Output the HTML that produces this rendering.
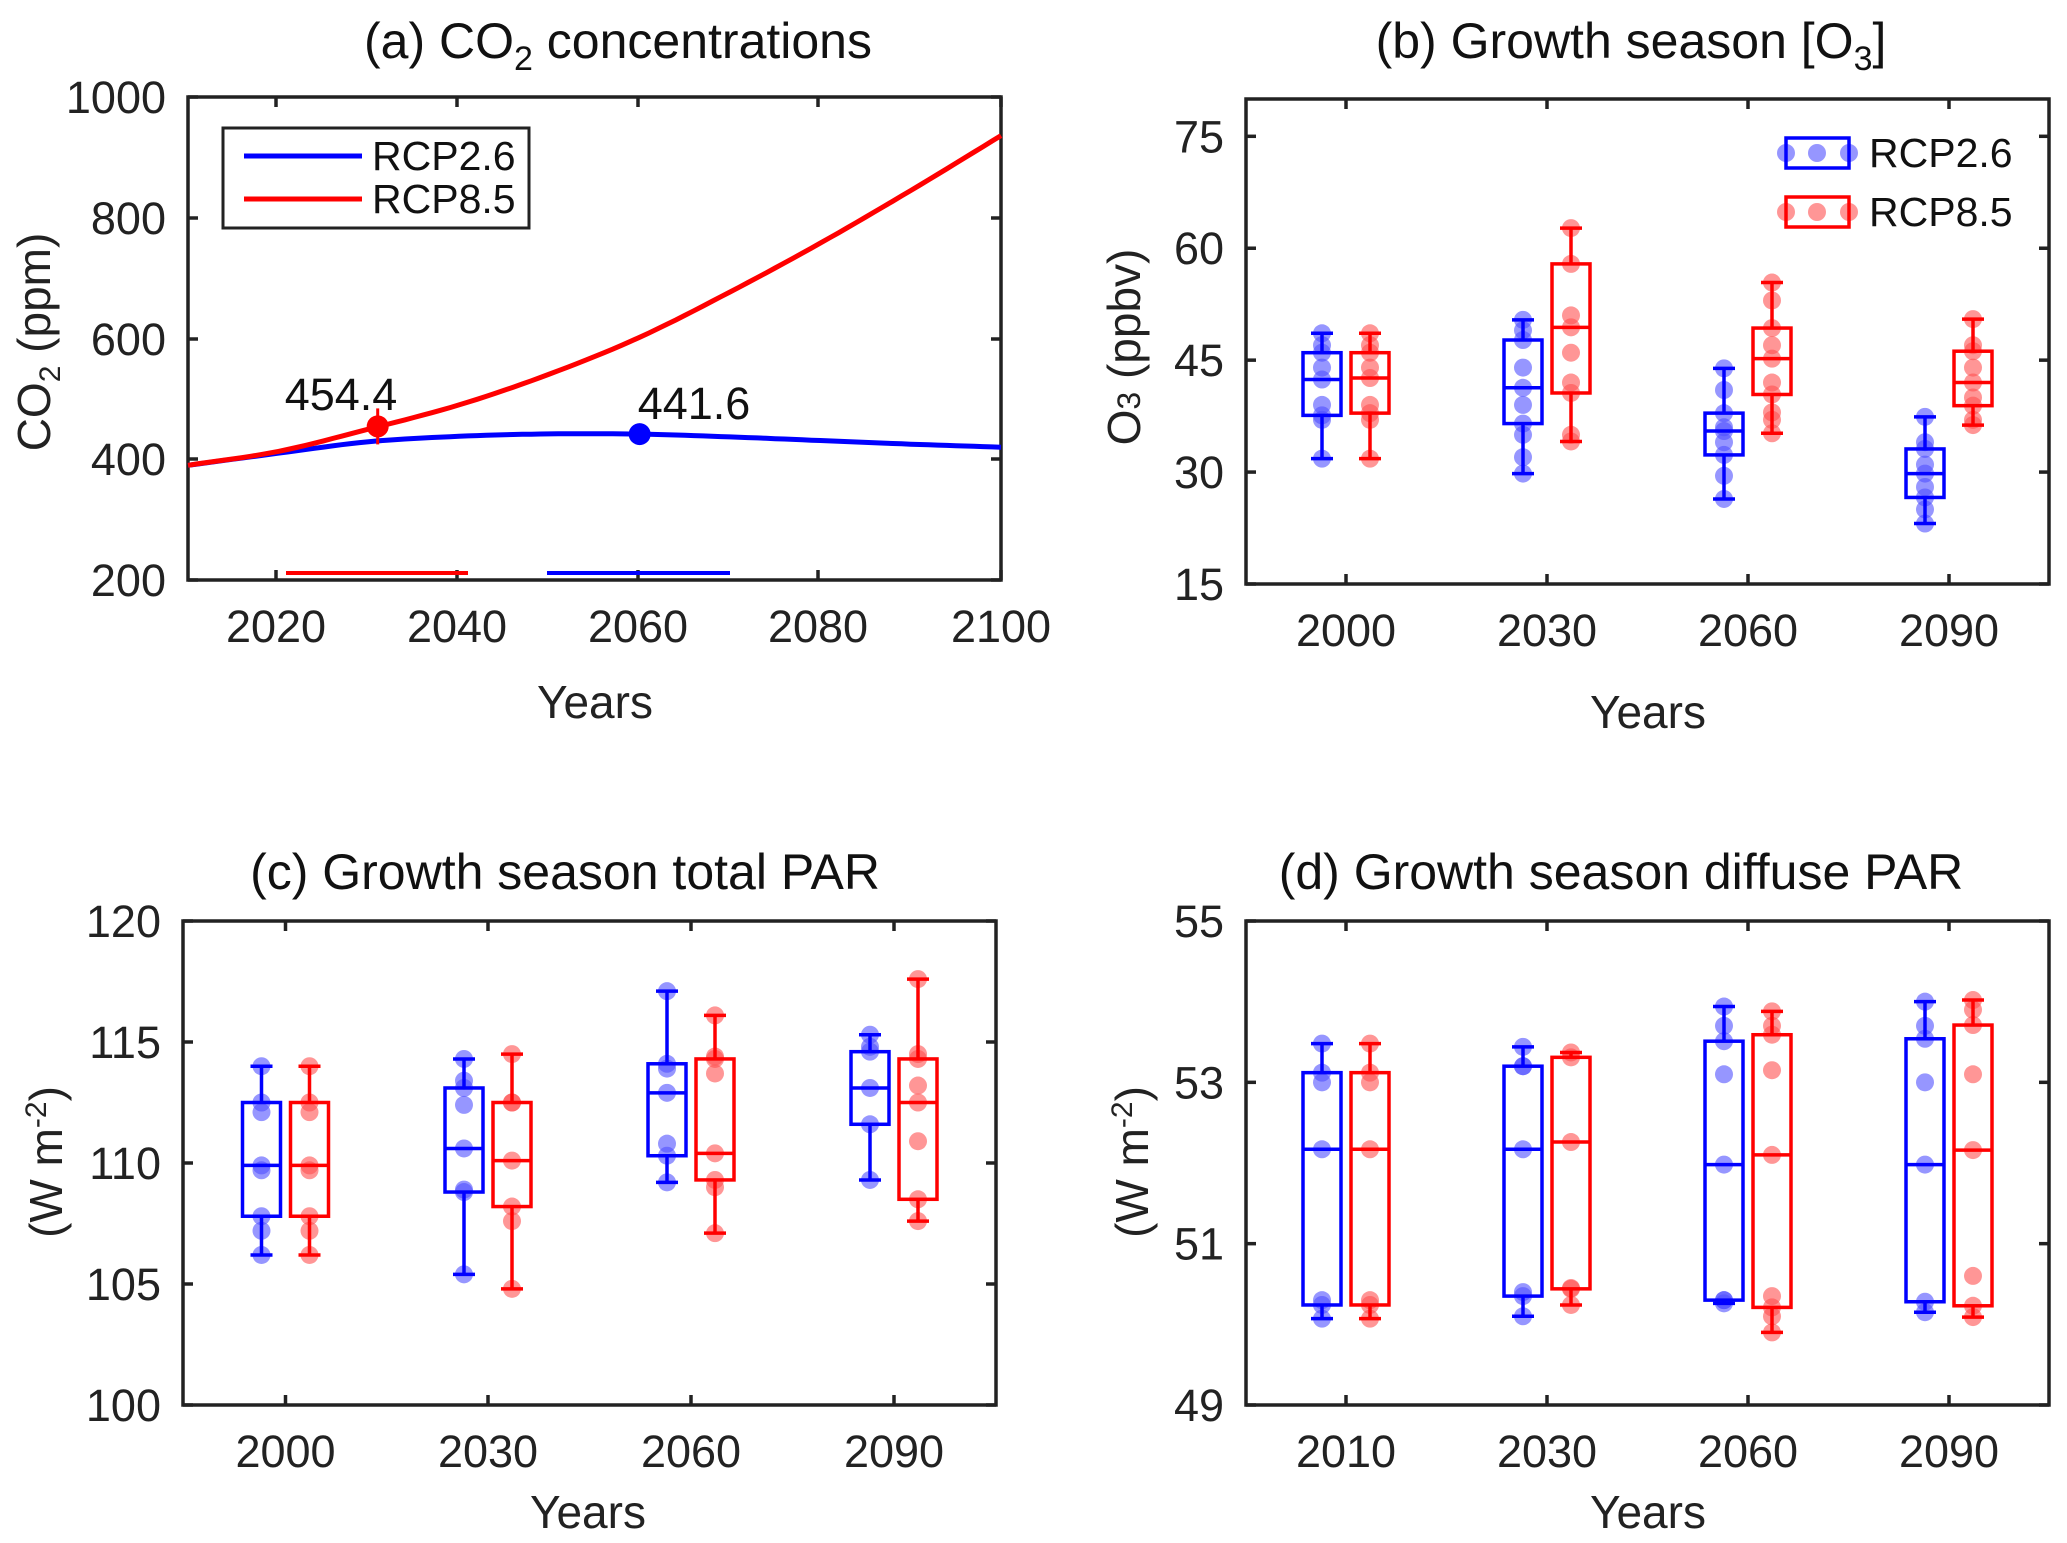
<!DOCTYPE html>
<html><head><meta charset="utf-8">
<style>
html,body{margin:0;padding:0;background:#fff;}
svg{display:block;font-family:"Liberation Sans",Arial,sans-serif;}
</style></head>
<body>
<svg id="s" width="2067" height="1543" viewBox="0 0 2067 1543" xmlns="http://www.w3.org/2000/svg">
<rect width="2067" height="1543" fill="#fff"/>
<g font-size="50" fill="#111" text-anchor="middle">
<text x="618" y="58">(a) CO<tspan font-size="34" dy="12">2</tspan><tspan dy="-12"> concentrations</tspan></text>
<text x="1631" y="58">(b) Growth season [O<tspan font-size="34" dy="12">3</tspan><tspan dy="-12">]</tspan></text>
<text x="565" y="889">(c) Growth season total PAR</text>
<text x="1621" y="889">(d) Growth season diffuse PAR</text>
</g>
<g font-size="46" fill="#222" text-anchor="middle">
<text x="595" y="718">Years</text>
<text x="1648" y="728">Years</text>
<text x="588" y="1528">Years</text>
<text x="1648" y="1528">Years</text>
<text transform="translate(50,342) rotate(-90)">CO<tspan font-size="30" dy="10">2</tspan><tspan dy="-10"> (ppm)</tspan></text>
<text transform="translate(1140,347) rotate(-90)">O<tspan font-size="32">3</tspan> (ppbv)</text>
<text transform="translate(62,1162) rotate(-90)">(W m<tspan font-size="30" dy="-16">-2</tspan><tspan dy="16">)</tspan></text>
<text transform="translate(1148,1162) rotate(-90)">(W m<tspan font-size="30" dy="-16">-2</tspan><tspan dy="16">)</tspan></text>
</g>
<g id="g"></g>
</svg>
<script>
var NS="http://www.w3.org/2000/svg",G=document.getElementById("g");
function el(t,a,p){var e=document.createElementNS(NS,t);for(var k in a)e.setAttribute(k,a[k]);(p||G).appendChild(e);return e;}
function txt(x,y,s,a){var e=el("text",Object.assign({x:x,y:y,"font-size":45,fill:"#222"},a||{}));e.textContent=s;return e;}
function axes(L,R,T,B,yt,xt){
 el("rect",{x:L,y:T,width:R-L,height:B-T,fill:"none",stroke:"#222","stroke-width":3.5});
 yt.forEach(function(t){el("line",{x1:L,x2:L+10,y1:t[0],y2:t[0],stroke:"#222","stroke-width":3.5});el("line",{x1:R,x2:R-10,y1:t[0],y2:t[0],stroke:"#222","stroke-width":3.5});txt(L-22,t[0]+16,t[1],{"text-anchor":"end"});});
 xt.forEach(function(t){el("line",{x1:t[0],x2:t[0],y1:B,y2:B-10,stroke:"#222","stroke-width":3.5});el("line",{x1:t[0],x2:t[0],y1:T,y2:T+10,stroke:"#222","stroke-width":3.5});txt(t[0],B+62,t[1],{"text-anchor":"middle"});});
}
// Panel a
(function(){
 var X=function(y){return 188+(y-2010)*9.033},Y=function(v){return 580-(v-200)*0.60375};
 var red=[[2010,390],[2020,413],[2030,450],[2040,490],[2050,541],[2060,602],[2070,677],[2080,758],[2090,845],[2100,936]];
 var blue=[[2010,390],[2020,410],[2030,429],[2040,438],[2050,442],[2060,441.6],[2070,437],[2080,431],[2090,425],[2100,420]];
 function path(d){var p="";var n=d.length;
  function g(j){if(j<0)return [0,2*d[0][1]-d[1][1]];if(j>=n)return [0,2*d[n-1][1]-d[n-2][1]];return d[j];}
  for(var i=0;i<=90;i++){var yr=2010+i,k=Math.min(8,Math.floor(i/10)),a=d[k],b=d[k+1],t=(yr-a[0])/10;
  var p0=g(k-1),p3=g(k+2),t2=t*t,t3=t2*t;
  var v=0.5*((2*a[1])+(-p0[1]+b[1])*t+(2*p0[1]-5*a[1]+4*b[1]-p3[1])*t2+(-p0[1]+3*a[1]-3*b[1]+p3[1])*t3);
  p+=(i?"L":"M")+X(yr).toFixed(1)+","+Y(v).toFixed(1);}return p;}
 axes(188,1001,97,580,[[97,"1000"],[218,"800"],[339,"600"],[459,"400"],[580,"200"]],[[276,"2020"],[457,"2040"],[638,"2060"],[818,"2080"],[1001,"2100"]]);
 el("path",{d:path(blue),fill:"none",stroke:"#0000ff","stroke-width":5});
 el("path",{d:path(red),fill:"none",stroke:"#ff0000","stroke-width":5});
 el("line",{x1:286,x2:468,y1:573,y2:573,stroke:"#ff0000","stroke-width":4});
 el("line",{x1:547,x2:730,y1:573,y2:573,stroke:"#0000ff","stroke-width":4});
 el("circle",{cx:X(2031),cy:Y(454.4),r:11,fill:"#ff0000"});
 el("line",{x1:X(2031),x2:X(2031),y1:Y(454.4)-18,y2:Y(454.4)+18,stroke:"#ff0000","stroke-width":3});
 el("circle",{cx:X(2060),cy:Y(441.6),r:11,fill:"#0000ff"});
 txt(341,410,"454.4",{"text-anchor":"middle",fill:"#111"});
 txt(694,419,"441.6",{"text-anchor":"middle",fill:"#111"});
 el("rect",{x:223,y:128,width:306,height:100,fill:"#fff",stroke:"#222","stroke-width":3});
 el("line",{x1:244,x2:362,y1:156,y2:156,stroke:"#0000ff","stroke-width":5});
 el("line",{x1:244,x2:362,y1:199,y2:199,stroke:"#ff0000","stroke-width":5});
 txt(372,170,"RCP2.6",{"font-size":41,fill:"#111"});
 txt(372,213,"RCP8.5",{"font-size":41,fill:"#111"});
})();
function boxes(L,R,T,B,vmin,vmax,ticks,years,data){
 var Y=function(v){return B-(v-vmin)/(vmax-vmin)*(B-T)};
 var yt=ticks.map(function(t){return [Y(t),String(t)]});
 var xs=[1346,1547,1748,1949];if(L<500)xs=[285.5,488,691,894];
 axes(L,R,T,B,yt,xs.map(function(x,i){return [x,years[i]]}));
 data.forEach(function(d,i){
  var cx=xs[Math.floor(i/2)]+(i%2?24:-24),col=i%2?"#ff0000":"#0000ff",lc=i%2?"rgba(255,80,80,0.6)":"rgba(80,80,255,0.6)";
  var hi=d[0],lo=d[1],q3=d[2],q1=d[3],md=d[4];
  (d[5]||[]).forEach(function(v){el("circle",{cx:cx,cy:Y(v),r:9,fill:lc});});
  [hi,lo,q3,q1,md].forEach(function(v){el("circle",{cx:cx,cy:Y(v),r:9,fill:lc});});
  el("line",{x1:cx,x2:cx,y1:Y(hi),y2:Y(q3),stroke:col,"stroke-width":3.5});
  el("line",{x1:cx,x2:cx,y1:Y(q1),y2:Y(lo),stroke:col,"stroke-width":3.5});
  el("line",{x1:cx-11,x2:cx+11,y1:Y(hi),y2:Y(hi),stroke:col,"stroke-width":3.5});
  el("line",{x1:cx-11,x2:cx+11,y1:Y(lo),y2:Y(lo),stroke:col,"stroke-width":3.5});
  el("rect",{x:cx-19,y:Y(q3),width:38,height:Y(q1)-Y(q3),fill:"none",stroke:col,"stroke-width":3.5});
  el("line",{x1:cx-19,x2:cx+19,y1:Y(md),y2:Y(md),stroke:col,"stroke-width":3.5});
 });
}
boxes(1246,2049,99,584,15,80,[15,30,45,60,75],["2000","2030","2060","2090"],[
 [48.6,31.8,46,37.6,42.4,[47,44,39,37]],[48.6,31.8,46,37.9,42.6,[47,44,39,37]],
 [50.4,29.8,47.7,36.5,41.3,[49,44,39,32,35]],[62.7,34.1,57.9,40.6,49.4,[51,46,42,35]],
 [43.9,26.4,37.9,32.3,35.5,[41,36,34,29.5]],[55.4,35.2,49.3,40.4,45.2,[53,47,42,38,37]],
 [37.4,23.1,33.1,26.6,29.8,[34,31,28,25]],[50.5,36.3,46.2,38.9,42,[47,44,40,37]]]);
(function(){
 [[153,"#0000ff","rgba(80,80,255,0.6)","RCP2.6"],[212,"#ff0000","rgba(255,80,80,0.6)","RCP8.5"]].forEach(function(r){
  [1786,1817,1849].forEach(function(x){el("circle",{cx:x,cy:r[0],r:9,fill:r[2]});});
  el("rect",{x:1786,y:r[0]-15,width:63,height:30,fill:"none",stroke:r[1],"stroke-width":3.5});
  txt(1869,r[0]+14,r[3],{"font-size":41,fill:"#111"});
 });
})();
boxes(183,996,921,1405,100,120,[100,105,110,115,120],["2000","2030","2060","2090"],[
 [114,106.2,112.5,107.8,109.9,[112.1,109.7,107.2]],[114,106.2,112.5,107.8,109.9,[112.1,109.7,107.2]],
 [114.3,105.4,113.1,108.8,110.6,[113.4,112.4,108.9]],[114.5,104.8,112.5,108.2,110.1,[112.5,107.6]],
 [117.1,109.2,114.1,110.3,112.9,[113.9,110.8]],[116.1,107.1,114.3,109.3,110.4,[114.4,113.7,109.0]],
 [115.3,109.3,114.6,111.6,113.1,[114.8]],[117.6,107.6,114.3,108.5,112.5,[114.5,113.2,110.9]]]);
boxes(1246,2049,921,1405,49,55,[49,51,53,55],["2010","2030","2060","2090"],[
 [53.48,50.07,53.12,50.24,52.17,[53.0,50.3]],[53.48,50.07,53.12,50.24,52.17,[53.0,50.3]],
 [53.44,50.10,53.20,50.35,52.17,[53.2,50.4]],[53.37,50.24,53.31,50.44,52.26,[50.45]],
 [53.94,50.26,53.51,50.30,51.98,[53.7,53.1,50.3]],[53.88,49.90,53.59,50.21,52.10,[53.7,53.15,50.35,50.1]],
 [54.0,50.15,53.54,50.28,51.98,[53.7,53.0]],[54.02,50.09,53.71,50.23,52.16,[53.9,53.1,50.6]]]);
</script>
</body></html>
